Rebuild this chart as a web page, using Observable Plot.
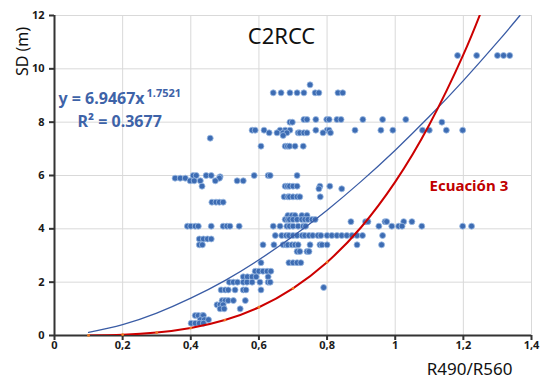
<!DOCTYPE html>
<html>
<head>
<meta charset="utf-8">
<script src="https://cdn.jsdelivr.net/npm/d3@7"></script>
<script src="https://cdn.jsdelivr.net/npm/@observablehq/plot@0.6"></script>
<style>
  html, body { margin: 0; padding: 0; background: #ffffff; }
  #chart svg { display: block; }
</style>
</head>
<body>
<div id="chart"></div>
<script>
// ---- Data ----
const xTicks = [0, 0.2, 0.4, 0.6, 0.8, 1, 1.2, 1.4];
const xTickLabels = ["0", "0,2", "0,4", "0,6", "0,8", "1", "1,2", "1,4"];
const yTicks = [0, 2, 4, 6, 8, 10, 12];

// Observations grouped by SD level (m) -> R490/R560 values
const sdLevels = [10.5, 9.4, 9.1, 8.1, 8.0, 7.7, 7.6, 7.5, 7.4, 7.1, 6.0, 5.95, 5.9, 5.8, 5.6, 5.5, 5.2, 5.0,
  4.5, 4.35, 4.27, 4.1, 3.75, 3.62, 3.4, 3.15, 2.73, 2.41, 2.2, 2.0, 1.8, 1.71, 1.31, 1.15, 1.0, 0.75, 0.59, 0.46];
const ratioByLevel = [
  [1.183, 1.239, 1.30, 1.318, 1.336],
  [0.75],
  [0.642, 0.665, 0.691, 0.712, 0.732, 0.765, 0.776, 0.832, 0.846],
  [0.732, 0.741, 0.767, 0.799, 0.806, 0.829, 0.841, 0.905, 0.963, 1.031],
  [0.691, 0.698, 1.137],
  [0.58, 0.589, 0.615, 0.662, 0.677, 0.691, 0.767, 0.80, 0.806, 0.882, 0.958, 0.993, 1.08, 1.10, 1.15, 1.198],
  [0.63, 0.653, 0.671, 0.682, 0.715, 0.72, 0.732, 0.741, 0.788, 0.81],
  [0.671],
  [0.457],
  [0.606, 0.677, 0.684, 0.69, 0.706, 0.73],
  [0.407, 0.416, 0.445, 0.46, 0.586, 0.627, 0.633, 0.712],
  [0.486],
  [0.354, 0.369, 0.384, 0.484],
  [0.398, 0.41, 0.428, 0.472, 0.536, 0.554],
  [0.433, 0.677, 0.684, 0.69, 0.70, 0.712, 0.779, 0.808],
  [0.776, 0.843],
  [0.674, 0.685, 0.69, 0.70, 0.712, 0.72, 0.78],
  [0.462, 0.474, 0.484, 0.495],
  [0.685, 0.697, 0.706, 0.726, 0.741],
  [0.677, 0.685, 0.69, 0.70, 0.712, 0.726, 0.735, 0.744, 0.756, 0.765],
  [0.87, 0.913, 0.92, 0.97, 0.975, 1.025, 1.049],
  [0.39, 0.40, 0.413, 0.422, 0.46, 0.495, 0.506, 0.515, 0.542, 0.642, 0.662, 0.682, 0.69, 0.70, 0.715, 0.73, 0.737,
   0.952, 0.99, 1.01, 1.02, 1.078, 1.198, 1.224],
  [0.648, 0.667, 0.68, 0.688, 0.70, 0.712, 0.727, 0.735, 0.747, 0.758, 0.773, 0.782, 0.80, 0.814, 0.829, 0.843,
   0.858, 0.873, 0.888, 0.904, 0.963],
  [0.425, 0.437, 0.449, 0.46],
  [0.425, 0.434, 0.612, 0.644, 0.671, 0.68, 0.685, 0.697, 0.706, 0.715, 0.75, 0.779, 0.785, 0.80, 0.888, 0.96],
  [0.712, 0.72, 0.741, 0.747],
  [0.606, 0.688, 0.70, 0.712, 0.723],
  [0.589, 0.60, 0.612, 0.624, 0.635],
  [0.554, 0.566, 0.58, 0.592, 0.627],
  [0.513, 0.525, 0.537, 0.554, 0.565, 0.58, 0.603, 0.627, 0.633],
  [0.79],
  [0.489, 0.501, 0.51, 0.53, 0.554, 0.562, 0.606],
  [0.492, 0.501, 0.51, 0.525, 0.56],
  [0.477, 0.486, 0.495],
  [0.486, 0.498, 0.545],
  [0.413, 0.422, 0.434, 0.437],
  [0.428, 0.44, 0.452],
  [0.401, 0.413, 0.425, 0.437]
];

// Power trend line (blue)
const fitX = [0.1, 0.2, 0.3, 0.4, 0.5, 0.6, 0.7, 0.8, 0.9, 1.0, 1.1, 1.2, 1.3, 1.366];
const fitY = [0.12, 0.41, 0.84, 1.40, 2.06, 2.84, 3.72, 4.70, 5.78, 6.95, 8.21, 9.56, 11.0, 12.0];

// "Ecuación 3" curve (red)
const eq3X = [0.1, 0.2, 0.3, 0.4, 0.5, 0.6, 0.7, 0.8, 0.9, 1.0, 1.1, 1.2, 1.26];
const eq3Y = [0.003, 0.03, 0.11, 0.28, 0.58, 1.06, 1.77, 2.75, 4.06, 5.76, 7.90, 10.53, 12.4];

// ---- Build tables ----
const points = sdLevels.flatMap((sd, i) => ratioByLevel[i].map(r => ({r, sd})));
const fit = fitX.map((x, i) => ({x, y: fitY[i]}));
const eq3 = eq3X.map((x, i) => ({x, y: eq3Y[i]}));
const eq3Markers = eq3.filter(d => d.x <= 0.8);

const font = "'Noto Sans', 'Liberation Sans', sans-serif";
const blueText = "#3e63a8";

const chart = Plot.plot({
  width: 540,
  height: 379,
  marginLeft: 54,
  marginRight: 9,
  marginTop: 15,
  marginBottom: 44,
  style: {fontFamily: font, background: "#ffffff", color: "#1a1a1a"},
  x: {domain: [0, 1.4], ticks: xTicks, tickFormat: (d, i) => xTickLabels[xTicks.indexOf(d)]},
  y: {domain: [0, 12], ticks: yTicks},
  marks: [
    Plot.gridX(xTicks, {stroke: "#d9d9d9", strokeOpacity: 1, strokeWidth: 1}),
    Plot.gridY(yTicks, {stroke: "#d9d9d9", strokeOpacity: 1, strokeWidth: 1}),
    Plot.ruleY([0], {stroke: "#333333", strokeWidth: 2}),
    Plot.ruleX([0], {stroke: "#333333", strokeWidth: 2}),
    Plot.axisX(xTicks, {tickSize: 5, tickPadding: 1, stroke: "#333333", strokeWidth: 2,
      fontSize: 11, fontWeight: "bold", fill: "#1a1a1a", label: null,
      tickFormat: d => xTickLabels[xTicks.indexOf(d)]}),
    Plot.axisY(yTicks, {tickSize: 5, tickPadding: 5, stroke: "#333333", strokeWidth: 2,
      fontSize: 11, fontWeight: "bold", fill: "#1a1a1a", label: null}),
    Plot.dot(points, {x: "r", y: "sd", r: 3, fill: "#3d6cb3", stroke: "#9dbbe3", strokeWidth: 0.8}),
    Plot.line(fit, {x: "x", y: "y", stroke: "#3a5ca5", strokeWidth: 1.3, curve: "natural", clip: true}),
    Plot.line(eq3, {x: "x", y: "y", stroke: "#cc0000", strokeWidth: 2, curve: "natural", clip: true}),
    Plot.dot(eq3Markers, {x: "x", y: "y", r: 1.4, fill: "#f07a22", stroke: null}),
    // Title
    Plot.text(["C2RCC"], {frameAnchor: "top-left", dx: 227, dy: 28, textAnchor: "middle", lineAnchor: "bottom",
      fontSize: 22, fill: "#111111"}),
    // Axis titles
    Plot.text(["SD (m)"], {frameAnchor: "top-left", dx: -32, dy: 36, rotate: -90, textAnchor: "middle",
      lineAnchor: "middle", fontSize: 16, fill: "#111111"}),
    Plot.text(["R490/R560"], {frameAnchor: "bottom-right", dx: -19, dy: 34, textAnchor: "end", lineAnchor: "middle",
      fontSize: 17, fill: "#111111"}),
    // Equation
    Plot.text(["y = 6.9467x"], {frameAnchor: "top-left", dx: 4, dy: 88, textAnchor: "start", lineAnchor: "bottom",
      fontSize: 16, fontWeight: "bold", fill: blueText}),
    Plot.text(["1.7521"], {frameAnchor: "top-left", dx: 92, dy: 81, textAnchor: "start", lineAnchor: "bottom",
      fontSize: 11, fontWeight: "bold", fill: blueText}),
    Plot.text(["R² = 0.3677"], {frameAnchor: "top-left", dx: 23, dy: 111, textAnchor: "start", lineAnchor: "bottom",
      fontSize: 16, fontWeight: "bold", fill: blueText}),
    Plot.text(["Ecuación 3"], {frameAnchor: "top-left", dx: 375, dy: 175, textAnchor: "start", lineAnchor: "bottom",
      fontSize: 15, fontWeight: "bold", fill: "#c00000"})
  ]
});
document.getElementById("chart").appendChild(chart);
</script>
</body>
</html>
